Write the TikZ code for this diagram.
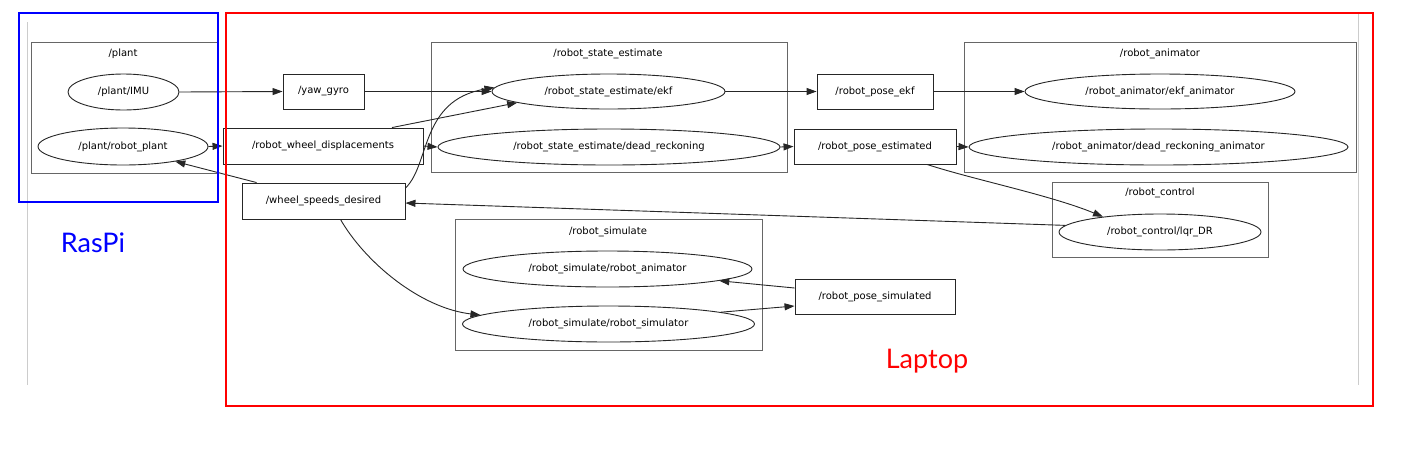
\documentclass[tikz,border=0pt]{standalone}
\usepackage{fontspec}
\setmainfont{DejaVu Sans}
\newfontfamily\latofont{Lato}
\usetikzlibrary{shapes.geometric,arrows.meta,calc}
\begin{document}
\begin{tikzpicture}[x=1pt,y=-1pt,
  every node/.style={font=\fontsize{10}{12}\selectfont, text=black},
  ros/.style={draw=black!85, line width=0.9pt, ellipse, inner sep=0pt},
  topic/.style={draw=black!85, line width=0.9pt, rectangle, inner sep=0pt},
  cluster/.style={draw=black!60, line width=0.9pt},
  edge/.style={draw=black!85, line width=0.9pt, -{Triangle[length=10pt,width=7pt]}},
  guide/.style={draw=black!20, line width=1.5pt},
  bigtext/.style={font=\latofont\fontsize{27}{32}\selectfont},
]
\useasboundingbox[fill=white] (0,0) rectangle (1406,448);

% faint frame lines
\draw[guide] (27.5,22) -- (27.5,385);
\draw[guide] (1358.5,12) -- (1358.5,385);

% clusters
\draw[cluster] (31,42) rectangle (217,173);
\node (plantlbl) at (123,54) {/plant};
\draw[cluster] (431,42) rectangle (787,172);
\node (selbl) at (608,54) {/robot\_state\_estimate};
\draw[cluster] (964,42) rectangle (1356,172);
\node (animlbl) at (1160,54) {/robot\_animator};
\draw[cluster] (1052,182) rectangle (1268,257);
\node (ctrllbl) at (1160,193) {/robot\_control};
\draw[cluster] (455,219) rectangle (762,350);
\node (simlbl) at (608,232) {/robot\_simulate};

% ROS nodes (ellipses)
\node[ros, minimum width=111pt, minimum height=36pt] (imu) at (123.5,92) {/plant/IMU};
\node[ros, minimum width=170pt, minimum height=37pt] (plant) at (123,146.5) {/plant/robot\_plant};
\node[ros, minimum width=233pt, minimum height=35pt] (ekf) at (608.5,91.5) {/robot\_state\_estimate/ekf};
\node[ros, minimum width=342pt, minimum height=36pt] (dr) at (609,147) {/robot\_state\_estimate/dead\_reckoning};
\node[ros, minimum width=270pt, minimum height=35pt] (ekfanim) at (1160,91.5) {/robot\_animator/ekf\_animator};
\node[ros, minimum width=379pt, minimum height=36pt] (dranim) at (1158.5,147) {/robot\_animator/dead\_reckoning\_animator};
\node[ros, minimum width=202pt, minimum height=36pt] (lqr) at (1160,232) {/robot\_control/lqr\_DR};
\node[ros, minimum width=289pt, minimum height=36pt] (simanim) at (607.5,269) {/robot\_simulate/robot\_animator};
\node[ros, minimum width=292pt, minimum height=36pt] (simsim) at (608.5,324) {/robot\_simulate/robot\_simulator};

% topics (boxes)
\node[topic, minimum width=81pt, minimum height=35pt] (yaw) at (323.5,91.5) {/yaw\_gyro};
\node[topic, minimum width=200pt, minimum height=36pt] (wdisp) at (323,146) {/robot\_wheel\_displacements};
\node[topic, minimum width=163pt, minimum height=36pt] (wsd) at (323.5,201) {/wheel\_speeds\_desired};
\node[topic, minimum width=116pt, minimum height=35pt] (poseekf) at (875,91.5) {/robot\_pose\_ekf};
\node[topic, minimum width=162pt, minimum height=35pt] (poseest) at (875,146.5) {/robot\_pose\_estimated};
\node[topic, minimum width=160pt, minimum height=35pt] (posesim) at (875,296.5) {/robot\_pose\_simulated};

% edges
\draw[edge] (imu.east) -- (yaw.west);
\draw[edge] (yaw.east) -- (ekf.west);
\draw[edge] (plant.east) -- (wdisp.west);
\draw[edge] ($(wdisp.north)+(69,0)$) -- (ekf.187);
\draw[edge] (wdisp.east) -- (dr.west);
\draw[edge] ($(wsd.east)+(0,-13)$) .. controls (430,165) and (420,100) .. (ekf.178);
\draw[edge] (ekf.east) -- (poseekf.west);
\draw[edge] (dr.east) -- (poseest.west);
\draw[edge] (poseekf.east) -- (ekfanim.west);
\draw[edge] (poseest.east) -- (dranim.west);
\draw[edge] ($(poseest.south)+(52,0)$) .. controls (975,180) and (1050,195) .. (lqr.165);
\draw[edge] (lqr.176) -- ($(wsd.east)+(0,2)$);
\draw[edge] ($(wsd.south)+(17,0)$) .. controls (365,262) and (420,308) .. (simsim.176);
\draw[edge] (simsim.6) -- ($(posesim.west)+(0,9.5)$);
\draw[edge] ($(posesim.west)+(0,-8.5)$) -- (simanim.354.7);
\draw[edge] ($(wsd.north west)+(15,0)$) -- (plant.344.4);

% machine frames
\draw[blue, line width=2.7pt] (19,13) rectangle (218,202);
\draw[red, line width=2.7pt] (226,13) rectangle (1373,406);
\node[bigtext, text=blue] (raspi) at (93,243) {RasPi};
\node[bigtext, text=red] (laptop) at (927,361) {Laptop};
\end{tikzpicture}
\end{document}
